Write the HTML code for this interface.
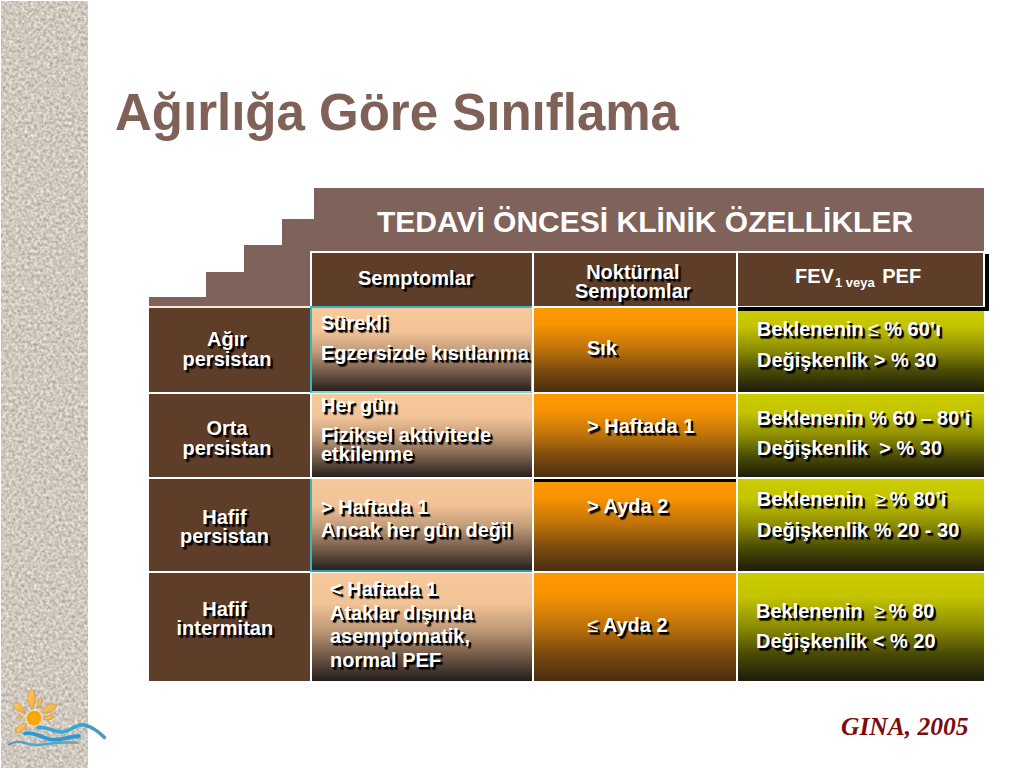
<!DOCTYPE html>
<html><head><meta charset="utf-8">
<style>
html,body{margin:0;padding:0;background:#fff;}
body{width:1024px;height:768px;position:relative;overflow:hidden;font-family:"Liberation Sans",sans-serif;}
.abs{position:absolute;}
#strip{left:1px;top:1px;width:87px;height:767px;background:#c7beb4;}
#title{left:115px;top:87px;font-size:51px;font-weight:bold;color:#7f6158;white-space:nowrap;line-height:51px;}
.st{position:absolute;background:#7f6259;}
.c{position:absolute;}
.t{position:absolute;color:#fff;font-weight:bold;font-size:20px;line-height:20px;text-shadow:2px 2px 0 #000,2.5px 2.5px 1px rgba(0,0,0,.7);white-space:nowrap;}
.hdr{background:#5e3d29;}
.peach{background:linear-gradient(#f7c99c 0%,#f2c397 28%,#c09a78 52%,#6e5746 78%,#231d1b 100%);}
.orange{background:linear-gradient(#ff9900 0%,#f89302 20%,#c0740a 48%,#7a4a0e 75%,#4a2e10 100%);}
.lime{background:linear-gradient(#cccc00 0%,#c4c400 22%,#8c8c02 50%,#4a4a06 75%,#1c1c0a 100%);}
.lbl{background:#5e3d29;}
.w{position:absolute;background:#fff;}
.sym{font-weight:normal;display:inline-block;margin-right:4px;}
#gina{left:841px;top:714px;font-family:"Liberation Serif",serif;font-style:italic;font-weight:bold;font-size:25.5px;line-height:26px;color:#7d0d0d;white-space:nowrap;}
</style></head>
<body>
<svg class="abs" style="left:0;top:0;" width="120" height="768" viewBox="0 0 120 768">
<defs>
<filter id="grain" x="0" y="0" width="100%" height="100%" color-interpolation-filters="sRGB">
<feTurbulence type="fractalNoise" baseFrequency="0.32" numOctaves="3" seed="7"/>
<feColorMatrix type="matrix" values="0.42 0 0 0 0.605  0.42 0 0 0 0.575  0.42 0 0 0 0.535  0 0 0 0 1"/>
</filter>
<radialGradient id="sunG" cx="0.45" cy="0.45" r="0.6"><stop offset="0" stop-color="#ffb000"/><stop offset="0.7" stop-color="#f7a20a"/><stop offset="1" stop-color="#f6c870"/></radialGradient>
<linearGradient id="rayG" x1="0" y1="0" x2="1" y2="1"><stop offset="0" stop-color="#f7cf6a"/><stop offset="1" stop-color="#efa838"/></linearGradient>
</defs>
<rect x="1" y="1" width="87" height="767" fill="#c8bfb5"/>
<rect x="1" y="1" width="87" height="767" filter="url(#grain)"/>
<g fill="url(#rayG)" stroke="#d9963a" stroke-width="0.7">
<path d="M32.0,710.0 Q39.2,696.9 31.5,688.5 Q24.2,697.3 32.0,710.0Z"/>
<path d="M37.5,708.0 Q43.6,703.1 41.5,697.5 Q36.2,700.3 37.5,708.0Z"/>
<path d="M41.0,713.0 Q53.9,714.5 56.5,704.5 Q46.7,701.3 41.0,713.0Z"/>
<path d="M43.0,719.0 Q50.9,721.9 54.5,716.5 Q48.9,713.1 43.0,719.0Z"/>
<path d="M25.5,712.5 Q21.9,701.6 13.0,703.0 Q14.1,712.0 25.5,712.5Z"/>
<path d="M23.5,717.5 Q20.3,713.7 17.0,716.0 Q18.9,719.5 23.5,717.5Z"/>
<path d="M26.5,723.0 Q15.7,723.8 15.5,732.5 Q24.1,733.6 26.5,723.0Z"/>
</g>
<circle cx="34.3" cy="718.3" r="9" fill="#f3e6d0" opacity="0.7"/>
<circle cx="34.3" cy="718.3" r="7.6" fill="url(#sunG)"/>
<g fill="none" stroke-linecap="round">
<path d="M38,727.5 C48,726 55,733 63,732 C71,731 76,723.5 84,725 C92,726.5 99,732 104.5,737.5" stroke="#3aa6d6" stroke-width="3.6"/>
<path d="M84,725 C92,726.5 99,732 104.5,737.5" stroke="#5e8fa6" stroke-width="1.6"/>
<path d="M25,733.5 C33,731 42,738 51,739.5 C60,741 68,736.5 79,736" stroke="#2b9ad4" stroke-width="3.8"/>
<path d="M9,744.5 C14,741.5 19,741 25,743 C31,745 37,745.5 44,744.5 C52,743.5 58,742 66,742.5 L77,742.5" stroke="#4aa8d8" stroke-width="2.4"/>
<path d="M9,744.5 C14,741.5 19,741 25,743" stroke="#7090a0" stroke-width="1.3"/>
<path d="M60,742.3 L77,742.7" stroke="#80a0b0" stroke-width="1.2"/>
</g>
</svg>
<div id="title" class="abs">Ağırlığa Göre Sınıflama</div>

<!-- stairs -->
<div class="st" style="left:314px;top:188px;width:670px;height:64px;"></div>
<div class="st" style="left:282px;top:219px;width:32px;height:88px;"></div>
<div class="st" style="left:244px;top:245px;width:38px;height:62px;"></div>
<div class="st" style="left:206px;top:272px;width:38px;height:35px;"></div>
<div class="st" style="left:149px;top:297px;width:57px;height:10px;"></div>
<div class="t" style="left:377px;top:207px;font-size:30px;line-height:30px;text-shadow:none;">TEDAVİ ÖNCESİ KLİNİK ÖZELLİKLER</div>

<!-- header row -->
<div class="c" style="left:739px;top:254px;width:250px;height:57px;background:#000;"></div>
<div class="c hdr" style="left:310px;top:251px;width:675px;height:57px;"></div>
<!-- white lines header -->
<div class="w" style="left:310px;top:251px;width:675px;height:2px;"></div>
<div class="w" style="left:310px;top:251px;width:2px;height:57px;"></div>
<div class="w" style="left:532px;top:251px;width:2px;height:57px;"></div>
<div class="w" style="left:736px;top:251px;width:2px;height:57px;"></div>
<div class="w" style="left:983px;top:251px;width:2px;height:57px;"></div>

<div class="t" style="left:358px;top:268px;">Semptomlar</div>
<div class="t" style="left:575px;top:263px;line-height:19px;text-align:center;">Noktürnal<br>Semptomlar</div>
<div class="t" style="left:795px;top:265.5px;text-shadow:none;">FEV<span style="font-size:13px;position:relative;top:4.5px;margin-left:1px;margin-right:2px;">1 veya</span> PEF</div>

<!-- body backgrounds -->
<div class="c lbl" style="left:149px;top:307px;width:161px;height:374px;"></div>
<div class="c peach" style="left:312px;top:308px;width:220px;height:84px;"></div>
<div class="c peach" style="left:312px;top:394px;width:220px;height:84px;"></div>
<div class="c peach" style="left:312px;top:479px;width:220px;height:92px;"></div>
<div class="c peach" style="left:312px;top:573px;width:220px;height:108px;"></div>

<div class="c orange" style="left:534px;top:308px;width:203px;height:84px;"></div>
<div class="c orange" style="left:534px;top:394px;width:203px;height:84px;"></div>
<div class="c orange" style="left:534px;top:479px;width:203px;height:92px;"></div>
<div class="c orange" style="left:534px;top:573px;width:203px;height:108px;"></div>

<div class="c lime" style="left:738px;top:308px;width:246px;height:84px;"></div>
<div class="c lime" style="left:738px;top:394px;width:246px;height:84px;"></div>
<div class="c lime" style="left:738px;top:479px;width:246px;height:92px;"></div>
<div class="c lime" style="left:738px;top:573px;width:246px;height:108px;"></div>

<!-- grid lines -->
<div class="w" style="left:149px;top:306px;width:161px;height:2px;background:#ffe9dc;"></div>
<div class="w" style="left:310px;top:306px;width:674px;height:2px;"></div>
<div class="w" style="left:149px;top:392px;width:835px;height:2px;"></div>
<div class="w" style="left:149px;top:477px;width:835px;height:2px;"></div>
<div class="w" style="left:149px;top:571px;width:835px;height:2px;"></div>
<div class="w" style="left:310px;top:307px;width:2px;height:374px;"></div>
<div class="w" style="left:532px;top:307px;width:2px;height:374px;"></div>
<div class="w" style="left:736px;top:307px;width:2px;height:374px;"></div>
<div class="c" style="left:738px;top:307px;width:251px;height:4px;background:#000;"></div>

<div class="c" style="left:310px;top:306px;width:222px;height:87px;box-sizing:border-box;border:2px solid #38b6c4;border-right:1px solid #9ad8d8;border-bottom-color:#7ad6d0;"></div>
<div class="c" style="left:310px;top:477px;width:222px;height:2px;background:#fff;"></div>
<div class="c" style="left:310px;top:479px;width:2px;height:93px;background:#38b6c4;"></div>
<div class="c" style="left:312px;top:570px;width:220px;height:2px;background:#2a9aa8;"></div>
<div class="c" style="left:534px;top:479px;width:202px;height:3px;background:#000;"></div>
<!-- labels -->
<div class="t" style="left:179px;top:330px;width:96px;line-height:19.5px;text-align:center;">Ağır<br>persistan</div>
<div class="t" style="left:179px;top:419px;width:96px;line-height:19.5px;text-align:center;">Orta<br>persistan</div>
<div class="t" style="left:176.5px;top:507.5px;width:96px;line-height:19.5px;text-align:center;">Hafif<br>persistan</div>
<div class="t" style="left:176.5px;top:599.5px;width:96px;line-height:19.5px;text-align:center;">Hafif<br>intermitan</div>

<div class="t" style="left:321px;top:312.5px;">Sürekli</div>
<div class="t" style="left:321px;top:343px;">Egzersizde kısıtlanma</div>
<div class="t" style="left:321px;top:395px;">Her gün</div>
<div class="t" style="left:321px;top:426px;line-height:19px;">Fiziksel aktivitede<br>etkilenme</div>
<div class="t" style="left:321px;top:495.5px;line-height:23.6px;">&gt; Haftada 1<br>Ancak her gün değil</div>
<div class="t" style="left:330px;top:578px;line-height:23.5px;">&lt; Haftada 1<br>Ataklar dışında<br>asemptomatik,<br>normal PEF</div>

<div class="t" style="left:587px;top:337.5px;">Sık</div>
<div class="t" style="left:587px;top:415.5px;">&gt; Haftada 1</div>
<div class="t" style="left:587px;top:495.5px;">&gt; Ayda 2</div>
<div class="t" style="left:587px;top:614.5px;"><span class="sym" style="margin-right:0">≤</span> Ayda 2</div>

<div class="t" style="left:757px;top:319px;">Beklenenin<span class="sym" style="margin-left:4px;margin-right:0">≤</span> % 60’ı</div>
<div class="t" style="left:757px;top:350px;">Değişkenlik &gt; % 30</div>
<div class="t" style="left:757px;top:407.5px;">Beklenenin % 60 – 80’i</div>
<div class="t" style="left:757px;top:438px;">Değişkenlik &nbsp;&gt; % 30</div>
<div class="t" style="left:757px;top:489px;">Beklenenin &nbsp;<span class="sym">≥</span>% 80’i</div>
<div class="t" style="left:757px;top:520px;">Değişkenlik % 20 - 30</div>
<div class="t" style="left:756px;top:601px;">Beklenenin &nbsp;<span class="sym">≥</span>% 80</div>
<div class="t" style="left:756px;top:631px;">Değişkenlik &lt; % 20</div>

<div id="gina" class="abs">GINA, 2005</div>
</body></html>
